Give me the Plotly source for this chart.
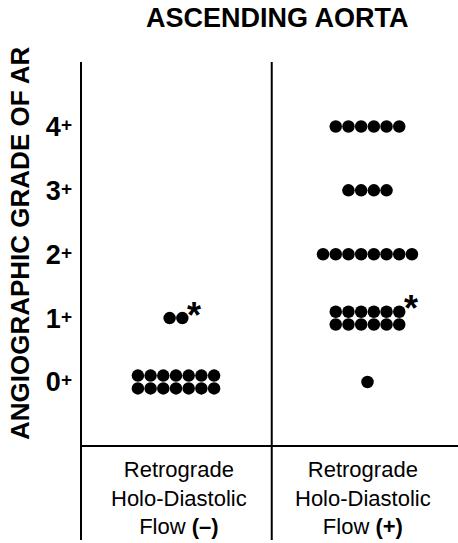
import plotly.graph_objects as go

# ---- data ----
title_text = "ASCENDING AORTA"
y_title = "ANGIOGRAPHIC GRADE OF AR"
groups = [0, 1]
group_labels = [
    ["Retrograde", "Holo-Diastolic", "Flow <b>(–)</b>"],
    ["Retrograde", "Holo-Diastolic", "Flow <b>(+)</b>"],
]
grades = [0, 1, 2, 3, 4]
tick_labels = ["0", "1", "2", "3", "4"]
counts_neg = [14, 2, 0, 0, 0]   # Flow (-) patients per grade
counts_pos = [1, 12, 8, 4, 6]   # Flow (+) patients per grade
asterisk_group = [0, 1]
asterisk_grade = [1, 1]

# ---- layout helpers ----
DX = 0.0663      # horizontal spacing of dots (x units)
DY = 0.1         # vertical half offset for double rows
MAXROW = 8

def dot_positions(gidx, counts):
    xs, ys = [], []
    last_top = {}
    for g, n in zip(grades, counts):
        if n == 0:
            continue
        if n > MAXROW:
            top = (n + 1) // 2
            rows = [(top, g + DY), (n - top, g - DY)]
        else:
            rows = [(n, g)]
        for k, (m, yy) in enumerate(rows):
            for i in range(m):
                xs.append(gidx + (i - (m - 1) / 2) * DX)
                ys.append(yy)
            if k == 0:
                last_top[g] = (gidx + ((m - 1) / 2) * DX, yy)
    return xs, ys, last_top

fig = go.Figure()
ends = {}
for gidx, counts in zip(groups, [counts_neg, counts_pos]):
    xs, ys, last_top = dot_positions(gidx, counts)
    ends[gidx] = last_top
    fig.add_trace(go.Scatter(x=xs, y=ys, mode="markers",
                             marker=dict(size=12.5, color="black", line=dict(width=0)),
                             showlegend=False, hoverinfo="skip"))

FONT = "Liberation Sans, Arial, sans-serif"
W, H = 458, 543
L, R, T, B = 81, 0, 62, 3
pw, ph = W - L - R, H - T - B

annotations = []
for ag, agr in zip(asterisk_group, asterisk_grade):
    ax, ay = ends[ag][agr]
    annotations.append(dict(x=ax, y=ay, xref="x", yref="y", text="*", showarrow=False,
                            xshift=12, yshift=3, xanchor="center", yanchor="middle",
                            font=dict(family=FONT, size=36, color="black", weight="bold")))

for gidx, lines in zip(groups, group_labels):
    annotations.append(dict(x=gidx, y=(H - 498 - B) / ph, xref="x", yref="paper",
                            text="<br>".join(lines), showarrow=False,
                            xshift=3 if gidx == 0 else -4, xanchor="center", yanchor="middle",
                            align="center",
                            font=dict(family=FONT, size=22, color="black")))

annotations.append(dict(x=(277 - L) / pw, y=(H - 18 - B) / ph, xref="paper", yref="paper",
                        text=title_text, showarrow=False, xanchor="center", yanchor="middle",
                        font=dict(family=FONT, size=27, color="black", weight="bold")))
annotations.append(dict(x=(20 - L) / pw, y=(H - 243 - B) / ph, xref="paper", yref="paper",
                        text=y_title, textangle=-90, showarrow=False, xanchor="center", yanchor="middle",
                        font=dict(family=FONT, size=26, color="black", weight="bold")))

shapes = [
    dict(type="line", xref="paper", yref="paper", x0=0, x1=0, y0=0, y1=1,
         line=dict(color="black", width=2)),
    dict(type="line", xref="x", yref="paper", x0=0.5, x1=0.5, y0=0, y1=1,
         line=dict(color="black", width=2)),
    dict(type="line", xref="paper", yref="y", x0=0, x1=1, y0=-1.0, y1=-1.0,
         line=dict(color="black", width=2)),
]

fig.update_layout(
    width=W, height=H,
    margin=dict(l=L, r=R, t=T, b=B),
    paper_bgcolor="white", plot_bgcolor="white",
    xaxis=dict(range=[-0.496, 1.4726], visible=False, fixedrange=True),
    yaxis=dict(range=[-2.473, 5.009], showgrid=False, zeroline=False, showline=False,
               tickmode="array", tickvals=grades,
               ticktext=[t + "<span style='font-size:19px;baseline-shift:5px'>+</span>" for t in tick_labels],
               tickfont=dict(family=FONT, size=27, color="black", weight="bold"),
               ticks="", ticklabelstandoff=8, fixedrange=True),
    annotations=annotations,
    shapes=shapes,
)

fig.write_html("out.html", post_script="document.body.style.margin='0';",
               config={"displayModeBar": False})
